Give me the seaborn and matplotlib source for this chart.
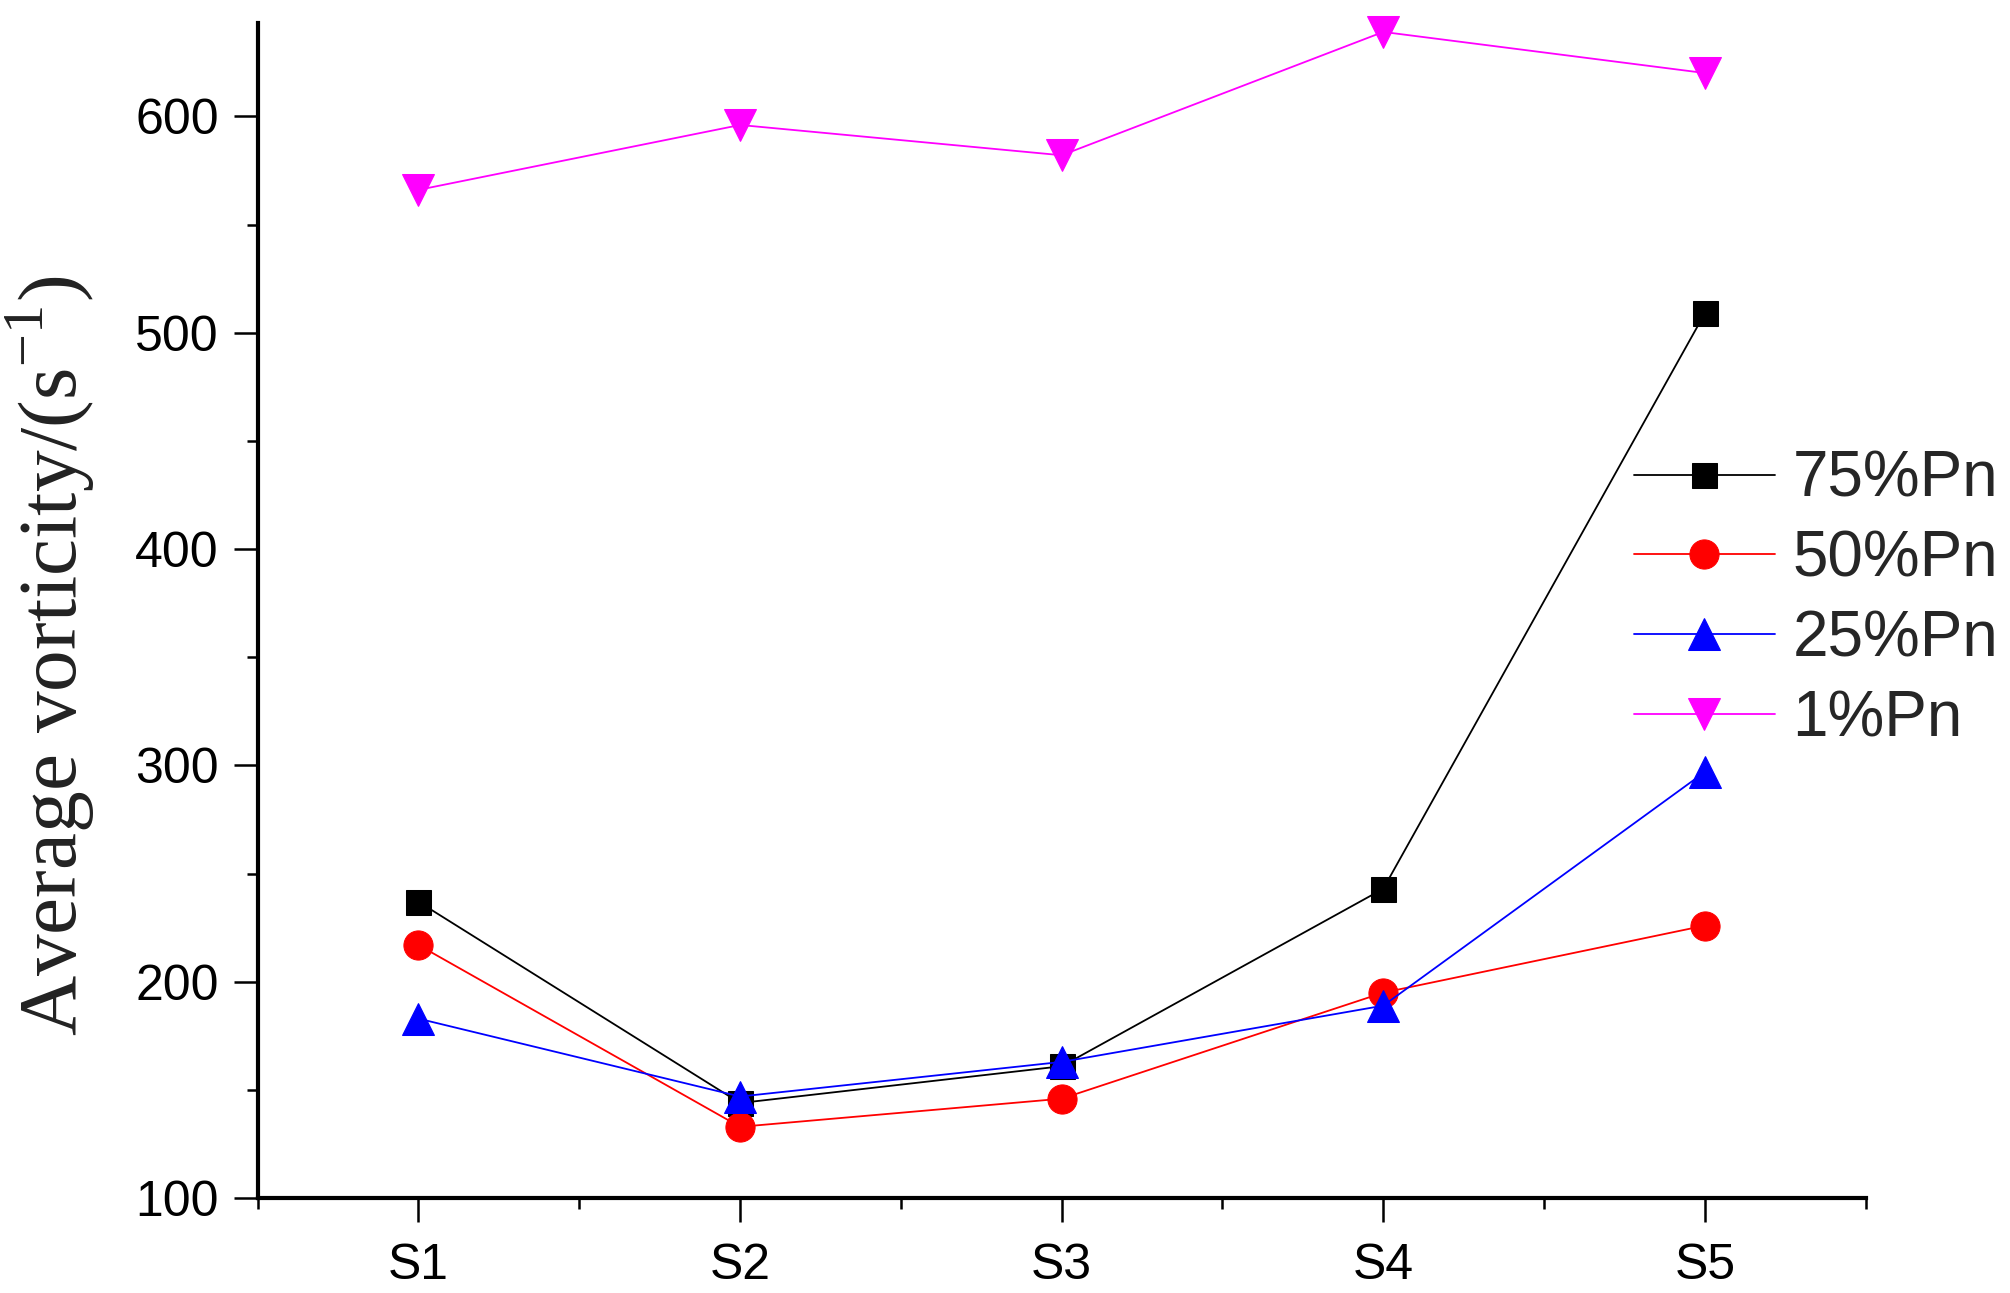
import matplotlib
matplotlib.use("Agg")
import matplotlib.pyplot as plt
import seaborn as sns
import pandas as pd
from matplotlib.ticker import MultipleLocator, FixedLocator

categories = ["S1", "S2", "S3", "S4", "S5"]
pn75 = [237, 144, 161, 243, 509]
pn50 = [217, 133, 146, 195, 226]
pn25 = [183, 147, 163, 189, 297]
pn1 = [566, 596, 582, 639, 620]
series_names = ["75%Pn", "50%Pn", "25%Pn", "1%Pn"]
y_ticks = [100, 200, 300, 400, 500, 600]

sns.set_theme(style="white")
plt.rcParams['font.family'] = ['Liberation Sans', 'DejaVu Sans']

fig = plt.figure(figsize=(20.1, 12.93), dpi=100)
ax = fig.add_axes([0.1282, 0.0733, 0.8000, 0.9087])

styles = [("black", "s", 18), ("red", "o", 21), ("blue", "^", 23), ("magenta", "v", 23)]
for name, vals, (c, m, ms) in zip(series_names, [pn75, pn50, pn25, pn1], styles):
    df = pd.DataFrame({"x": categories, "y": vals})
    sns.lineplot(data=df, x="x", y="y", ax=ax, color=c, marker=m, markersize=ms,
                 markeredgecolor=c, linewidth=1.3, label=name, clip_on=False, sort=False)

ax.set_xlim(-0.5, 4.5)
ax.set_ylim(100, 643)
ax.yaxis.set_major_locator(FixedLocator(y_ticks))
ax.yaxis.set_minor_locator(MultipleLocator(50))
ax.xaxis.set_minor_locator(MultipleLocator(0.5))

for s in ["top", "right"]:
    ax.spines[s].set_visible(False)
for s in ["left", "bottom"]:
    ax.spines[s].set_linewidth(3)
    ax.spines[s].set_color("black")

ax.tick_params(which="major", direction="out", length=17, width=1.8, labelsize=36,
               left=True, bottom=True, colors="black", pad=11)
ax.tick_params(axis="x", which="major", pad=15)
ax.tick_params(which="minor", direction="out", length=8, width=1.8, left=True, bottom=True,
               colors="black")

ax.set_xlabel("")
ax.set_ylabel(r"Average vorticity/(s$^{\mathregular{-1}}$)", fontfamily="Liberation Serif",
              fontsize=60, color="#222222")
ax.yaxis.set_label_coords(-0.100, 0.462)

handles, labels = ax.get_legend_handles_labels()
ax.legend(handles, labels, loc="upper left", bbox_to_anchor=(0.813, 0.652),
          bbox_transform=fig.transFigure, frameon=False, fontsize=46,
          handlelength=2.2, handletextpad=0.28, labelspacing=0.31, borderpad=0,
          borderaxespad=0)

fig.savefig("out.png", dpi=100)
